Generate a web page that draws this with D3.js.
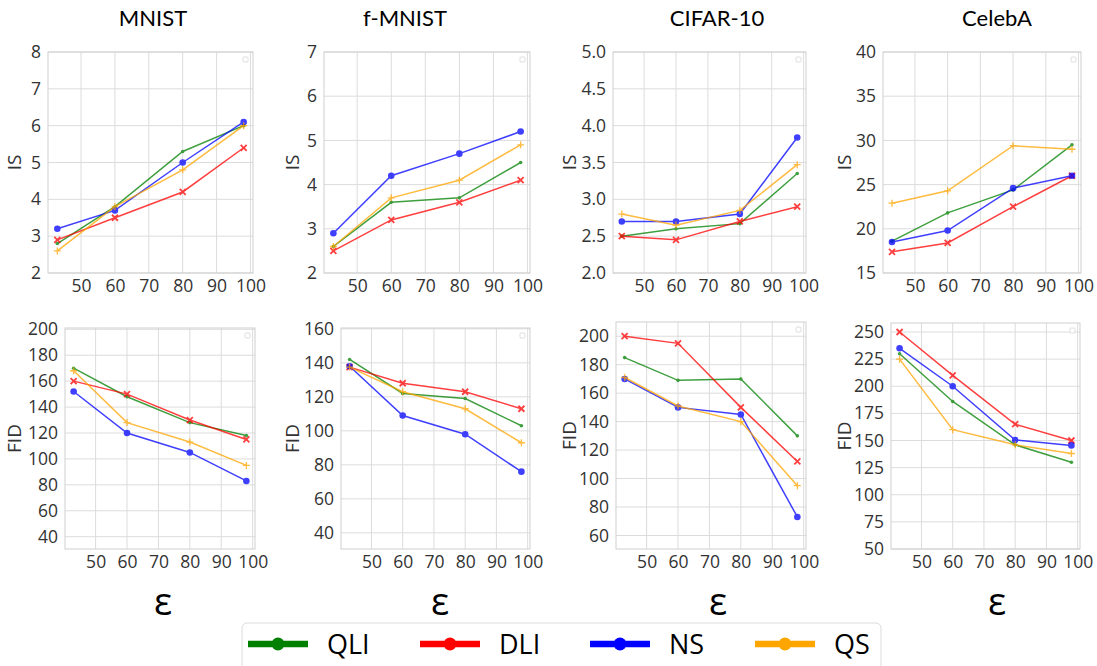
<!DOCTYPE html>
<html>
<head>
<meta charset="utf-8">
<script src="https://cdn.jsdelivr.net/npm/d3@7"></script>
<style>
  body { margin: 0; background: #fff; }
  svg { display: block; }
</style>
</head>
<body>
<div id="chart"></div>
<script>
// methods, in legend order
var methods = ["QLI", "DLI", "NS", "QS"];
var colors = ["green", "red", "blue", "orange"];
var datasets = ["MNIST", "f-MNIST", "CIFAR-10", "CelebA"];

// privacy budget on the x axis
var eps = [43, 60, 80, 98];
var xTicks = [50, 60, 70, 80, 90, 100];

// values, one row per method (QLI, DLI, NS, QS)
var mnistIS = [[2.8, 3.8, 5.3, 6.0], [2.9, 3.5, 4.2, 5.4], [3.2, 3.7, 5.0, 6.1], [2.6, 3.8, 4.8, 6.0]];
var mnistFID = [[170, 148, 128, 118], [160, 150, 130, 115], [152, 120, 105, 83], [168, 128, 113, 95]];
var fmnistIS = [[2.6, 3.6, 3.7, 4.5], [2.5, 3.2, 3.6, 4.1], [2.9, 4.2, 4.7, 5.2], [2.6, 3.7, 4.1, 4.9]];
var fmnistFID = [[142, 122, 119, 103], [137.5, 128, 123, 113], [138, 109, 98, 76], [137.5, 123, 113, 93]];
var cifarIS = [[2.5, 2.6, 2.67, 3.35], [2.5, 2.45, 2.7, 2.9], [2.7, 2.7, 2.8, 3.84], [2.8, 2.65, 2.85, 3.47]];
var cifarFID = [[185, 169, 170, 130], [200, 195, 150, 112], [170, 150, 145, 73], [171, 151, 140, 95]];
var celebaIS = [[18.6, 21.8, 24.4, 29.5], [17.4, 18.4, 22.5, 26.0], [18.5, 19.8, 24.6, 26.0], [22.9, 24.3, 29.4, 29.0]];
var celebaFID = [[230, 186, 146, 130], [250, 210, 165, 150], [235, 200, 150.5, 145.5], [225, 160, 146, 138]];

// y tick labels
var ticksMnistIS = [2, 3, 4, 5, 6, 7, 8];
var ticksMnistFID = [40, 60, 80, 100, 120, 140, 160, 180, 200];
var ticksFmnistIS = [2, 3, 4, 5, 6, 7];
var ticksFmnistFID = [40, 60, 80, 100, 120, 140, 160];
var ticksCifarIS = [2.0, 2.5, 3.0, 3.5, 4.0, 4.5, 5.0];
var ticksCifarFID = [60, 80, 100, 120, 140, 160, 180, 200];
var ticksCelebaIS = [15, 20, 25, 30, 35, 40];
var ticksCelebaFID = [50, 75, 100, 125, 150, 175, 200, 225, 250];

var W = 1097, H = 666;
var svg = d3.select("#chart").append("svg")
  .attr("width", W)
  .attr("height", H);

var panels = [
  {data: mnistIS, ticks: ticksMnistIS, dom: [2, 8], label: "IS", x0: 48, x1: 253, y0: 52, y1: 273, fmt: d3.format("d")},
  {data: fmnistIS, ticks: ticksFmnistIS, dom: [2, 7], label: "IS", x0: 324, x1: 530, y0: 52, y1: 273, fmt: d3.format("d")},
  {data: cifarIS, ticks: ticksCifarIS, dom: [2, 5], label: "IS", x0: 613, x1: 806, y0: 52, y1: 273, fmt: d3.format(".1f")},
  {data: celebaIS, ticks: ticksCelebaIS, dom: [15, 40], label: "IS", x0: 883, x1: 1081, y0: 52, y1: 273, fmt: d3.format("d")},
  {data: mnistFID, ticks: ticksMnistFID, dom: [30.5, 201], label: "FID", x0: 65, x1: 255, y0: 328, y1: 549, fmt: d3.format("d")},
  {data: fmnistFID, ticks: ticksFmnistFID, dom: [30.5, 160.5], label: "FID", x0: 341, x1: 530, y0: 328, y1: 549, fmt: d3.format("d")},
  {data: cifarFID, ticks: ticksCifarFID, dom: [50.5, 210], label: "FID", x0: 616, x1: 806, y0: 322, y1: 549, fmt: d3.format("d")},
  {data: celebaFID, ticks: ticksCelebaFID, dom: [50, 258.3], label: "FID", x0: 891, x1: 1080, y0: 323, y1: 549, fmt: d3.format("d")}
];
var labelX = [15, 293, 570, 845];

var tickFont = "'Open Sans', sans-serif";

panels.forEach(function(p, i) {
  var w = p.x1 - p.x0, h = p.y1 - p.y0;
  var g = svg.append("g").attr("transform", `translate(${p.x0}, ${p.y0})`);

  var x = d3.scaleLinear().domain([40.25, 100.75]).range([0, w]);
  var y = d3.scaleLinear().domain(p.dom).range([h, 0]);

  // grid
  g.append("g").selectAll("line").data(xTicks).enter().append("line")
    .attr("x1", d => x(d)).attr("x2", d => x(d))
    .attr("y1", 0).attr("y2", h)
    .attr("stroke", "#dcdcdc").attr("stroke-width", 1);
  g.append("g").selectAll("line").data(p.ticks).enter().append("line")
    .attr("x1", 0).attr("x2", w)
    .attr("y1", d => y(d)).attr("y2", d => y(d))
    .attr("stroke", "#dcdcdc").attr("stroke-width", 1);

  // axes (no tick marks, like seaborn whitegrid)
  var xAxis = g.append("g")
    .attr("transform", `translate(0, ${h})`)
    .call(d3.axisBottom(x).tickValues(xTicks).tickSize(0).tickPadding(7));
  var yAxis = g.append("g")
    .call(d3.axisLeft(y).tickValues(p.ticks).tickFormat(p.fmt).tickSize(0).tickPadding(7));
  [xAxis, yAxis].forEach(function(a) {
    a.select(".domain").remove();
    a.selectAll("text")
      .style("font-family", tickFont)
      .style("font-size", "17.5px")
      .attr("fill", "#333");
  });

  // frame
  g.append("rect")
    .attr("width", w).attr("height", h)
    .attr("fill", "none").attr("stroke", "#cfcfcf").attr("stroke-width", 1);

  // empty legend box
  g.append("rect")
    .attr("x", w - 10).attr("y", 5)
    .attr("width", 5).attr("height", 5)
    .attr("rx", 1)
    .attr("fill", "#fff").attr("stroke", "#d6d6d6").attr("stroke-width", 0.8);

  // y label
  svg.append("text")
    .attr("transform", `translate(${labelX[i % 4] + 6}, ${(p.y0 + p.y1) / 2}) rotate(-90)`)
    .attr("text-anchor", "middle")
    .style("font-family", tickFont)
    .style("font-size", "19px")
    .attr("fill", "#333")
    .text(p.label);

  // lines
  var line = d3.line().x((d, k) => x(eps[k])).y(d => y(d));
  p.data.forEach(function(vals, m) {
    var c = colors[m];
    var s = g.append("g").attr("opacity", 0.75);
    s.append("path")
      .datum(vals)
      .attr("d", line)
      .attr("fill", "none")
      .attr("stroke", c)
      .attr("stroke-width", 1.5);

    var pts = s.selectAll(".pt").data(vals).enter().append("g")
      .attr("transform", (d, k) => `translate(${x(eps[k])}, ${y(d)})`);
    if (m === 0) {
      pts.append("circle").attr("r", 1.8).attr("fill", c);
    } else if (m === 2) {
      pts.append("circle").attr("r", 3.3).attr("fill", c);
    } else if (m === 1) {
      pts.append("path").attr("d", "M-3,-3L3,3M-3,3L3,-3")
        .attr("stroke", c).attr("stroke-width", 1.8);
    } else {
      pts.append("path").attr("d", "M-3.5,0L3.5,0M0,-3.5L0,3.5")
        .attr("stroke", c).attr("stroke-width", 1.3);
    }
  });
});

// titles
var titleX = [153, 405, 717, 997];
svg.selectAll(".title").data(datasets).enter().append("text")
  .attr("x", (d, i) => titleX[i])
  .attr("y", 26)
  .attr("text-anchor", "middle")
  .style("font-family", "Lato, sans-serif")
  .style("font-size", "22px")
  .style("font-weight", "400")
  .attr("fill", "#000")
  .text(d => d);

// epsilon labels
var epsX = [163, 440, 718, 997];
svg.selectAll(".eps").data(epsX).enter().append("text")
  .attr("x", d => d)
  .attr("y", 615)
  .attr("text-anchor", "middle")
  .style("font-family", tickFont)
  .style("font-size", "38px")
  .attr("fill", "#000")
  .text("ε");

// legend
var legend = svg.append("g");
legend.append("rect")
  .attr("x", 242).attr("y", 623)
  .attr("width", 639).attr("height", 60)
  .attr("rx", 5)
  .attr("fill", "#fff").attr("stroke", "#dcdcdc").attr("stroke-width", 1);

var legX = [248, 420, 590, 755];
methods.forEach(function(name, m) {
  var lx = legX[m];
  legend.append("line")
    .attr("x1", lx).attr("x2", lx + 60)
    .attr("y1", 644).attr("y2", 644)
    .attr("stroke", colors[m]).attr("stroke-width", 6.5);
  legend.append("circle")
    .attr("cx", lx + 30).attr("cy", 644)
    .attr("r", 6.5).attr("fill", colors[m]);
  legend.append("text")
    .attr("x", lx + 79).attr("y", 654)
    .style("font-family", tickFont)
    .style("font-size", "27px")
    .attr("fill", "#000")
    .text(name);
});
</script>
</body>
</html>
